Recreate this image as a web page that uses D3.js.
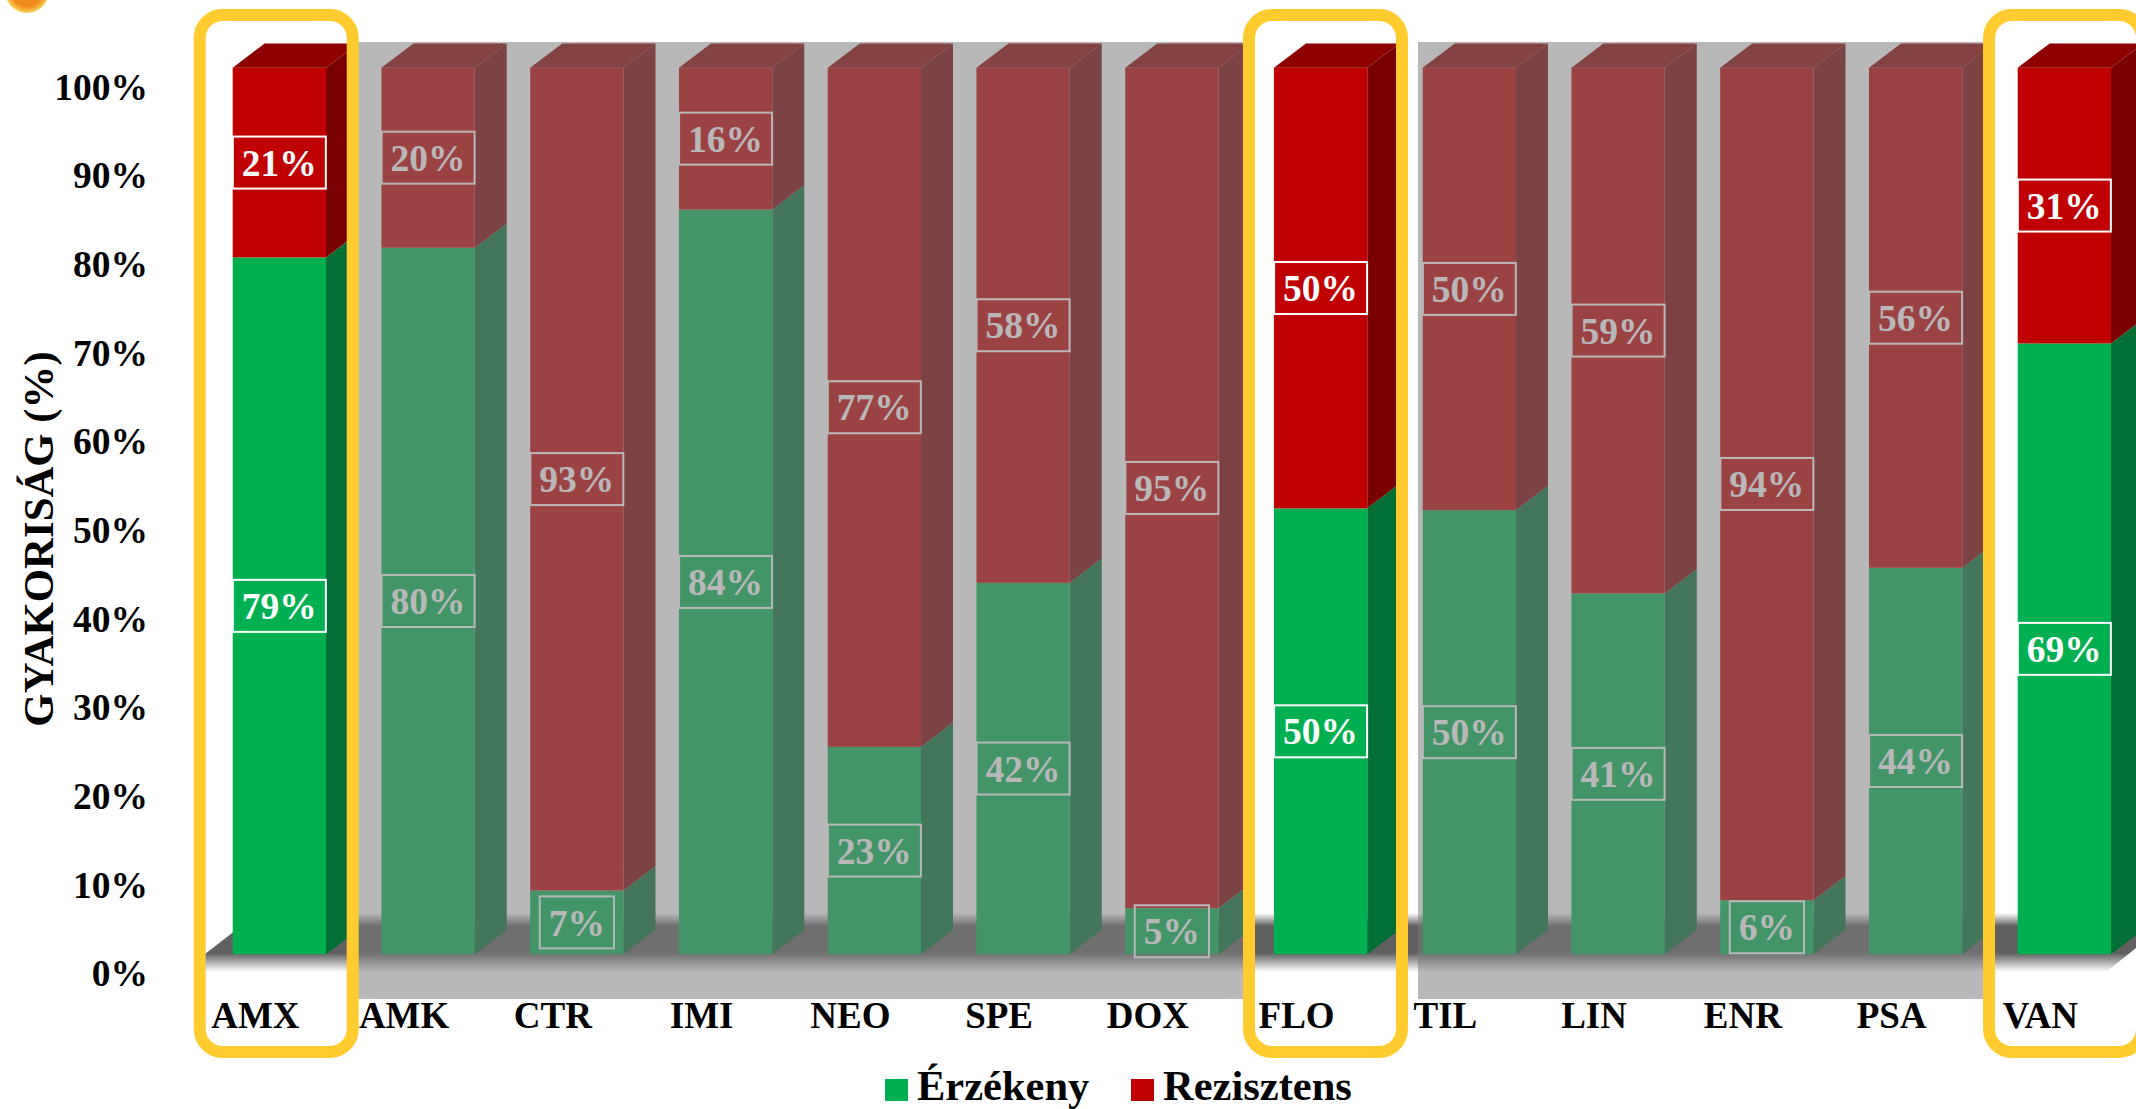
<!DOCTYPE html>
<html>
<head>
<meta charset="utf-8">
<script src="https://cdn.jsdelivr.net/npm/d3@7"></script>
<style>
  html, body { margin: 0; padding: 0; background: #fff; overflow: hidden; }
  text { font-family: "Liberation Serif", "Times New Roman", serif; font-weight: bold; }
</style>
</head>
<body>
<div id="chart"></div>
<script>
//Chart values (the labels show them rounded)
const categories = ["AMX", "AMK", "CTR", "IMI", "NEO", "SPE", "DOX", "FLO", "TIL", "LIN", "ENR", "PSA", "VAN"];
const erzekeny = [78.6, 79.7, 7.2, 84, 23.4, 41.9, 5.2, 50.3, 50.1, 40.7, 6.1, 43.6, 68.9];
const rezisztens = [21.4, 20.3, 92.8, 16, 76.6, 58.1, 94.8, 49.7, 49.9, 59.3, 93.9, 56.4, 31.1];
const yTicks = [0, 10, 20, 30, 40, 50, 60, 70, 80, 90, 100];
const seriesNames = ["Érzékeny", "Rezisztens"];
const yTitle = "GYAKORISÁG (%)";

const width = 2136, height = 1109;
const depthX = 32, depthY = 24.3;
const colors = {
    "Érzékeny": {front: "#00b050", side: "#006f35", top: "#008a3e"},
    "Rezisztens": {front: "#c00000", side: "#7a0000", top: "#8e0000"}
};

const svg = d3.select("#chart")
    .append("svg")
    .attr("width", width)
    .attr("height", height);

//Scales
const x = d3.scaleBand()
    .domain(categories)
    .range([232.7, 2111])
    .paddingInner(0.3728)
    .paddingOuter(0);

const y = d3.scaleLinear()
    .domain([0, 100])
    .range([954.3, 67.7]);

//Small round icon cut off by the top edge
const defs = svg.append("defs");
const iconGrad = defs.append("radialGradient").attr("id", "iconGrad");
iconGrad.append("stop").attr("offset", "70%").attr("stop-color", "#f08a1d");
iconGrad.append("stop").attr("offset", "100%").attr("stop-color", "#fcd25a");
svg.append("circle").attr("cx", 27).attr("cy", -9).attr("r", 22).attr("fill", "url(#iconGrad)");

//Floor with soft edges
const floorGrad = defs.append("linearGradient")
    .attr("id", "floorGrad")
    .attr("gradientUnits", "userSpaceOnUse")
    .attr("x1", 0).attr("x2", 0).attr("y1", 913).attr("y2", 972);
[[913, 0], [926, 1], [953, 1], [972, 0]].forEach(s => {
    floorGrad.append("stop")
        .attr("offset", (s[0] - 913) / 59)
        .attr("stop-color", "#606060")
        .attr("stop-opacity", s[1]);
});
svg.append("polygon")
    .attr("points", "205,954 258,913 2136,913 2136,948 2106,972 205,972")
    .attr("fill", "url(#floorGrad)");

//Stack the two series
const rows = categories.map((c, i) => ({cat: c, "Érzékeny": erzekeny[i], "Rezisztens": rezisztens[i]}));
const stacked = d3.stack().keys(seriesNames)(rows);

//Each segment is a side face and a front face, the top segment also gets a lid
const bars = svg.append("g");
stacked.forEach((layer, li) => {
    const col = colors[layer.key];
    const g = bars.append("g");
    layer.forEach(d => {
        const x0 = x(d.data.cat), x1 = x0 + x.bandwidth();
        const yb = y(d[0]), yt = y(d[1]);

        g.append("polygon")
            .attr("points", `${x1},${yb} ${x1 + depthX},${yb - depthY} ${x1 + depthX},${yt - depthY} ${x1},${yt}`)
            .attr("fill", col.side);
        g.append("rect")
            .attr("x", x0).attr("y", yt)
            .attr("width", x.bandwidth()).attr("height", yb - yt)
            .attr("fill", col.front);
        if (li === stacked.length - 1) {
            g.append("polygon")
                .attr("points", `${x0},${yt} ${x0 + depthX},${yt - depthY} ${x1 + depthX},${yt - depthY} ${x1},${yt}`)
                .attr("fill", col.top);
        }
    });
});

//Value labels with a white frame
const labels = svg.append("g");
stacked.forEach(layer => {
    layer.forEach(d => {
        const cx = x(d.data.cat) + x.bandwidth() / 2;
        const cy = (y(d[0]) + y(d[1])) / 2;
        const t = labels.append("text")
            .attr("x", cx)
            .attr("y", cy)
            .attr("dy", "0.35em")
            .attr("text-anchor", "middle")
            .attr("font-size", 37.5)
            .attr("fill", "#fff")
            .text(`${Math.round(d.data[layer.key])}%`);
        const w = t.node().getComputedTextLength() + 18;
        labels.append("rect")
            .attr("x", cx - w / 2)
            .attr("y", cy - 26)
            .attr("width", w)
            .attr("height", 52)
            .attr("fill", "none")
            .attr("stroke", "#fff")
            .attr("stroke-width", 2);
    });
});

//Grey veil over the columns that are not highlighted
[[358, 885], [1418, 565]].forEach(p => {
    svg.append("rect")
        .attr("x", p[0]).attr("y", 42)
        .attr("width", p[1]).attr("height", 957)
        .attr("fill", "#7c7c7c")
        .attr("opacity", 0.54);
});

//Yellow frames around the highlighted columns
[199.7, 1249, 1989].forEach(bx => {
    svg.append("rect")
        .attr("x", bx).attr("y", 15)
        .attr("width", 153).attr("height", 1037)
        .attr("rx", 23).attr("ry", 23)
        .attr("fill", "none")
        .attr("stroke", "#ffcb2f")
        .attr("stroke-width", 12);
});

//Y axis, its labels sit a bit below the front of the bars
const yAxis = svg.append("g")
    .attr("transform", "translate(148,19.5)")
    .call(d3.axisLeft(y).tickValues(yTicks).tickSize(0).tickPadding(0).tickFormat(d => `${d}%`));
yAxis.select(".domain").remove();
yAxis.selectAll("text")
    .attr("font-size", 37.5)
    .attr("fill", "#000")
    .style("font-family", '"Liberation Serif", serif');

//X axis, labels shifted to the left of the bars
const xAxis = svg.append("g")
    .attr("transform", "translate(-24,1003)")
    .call(d3.axisBottom(x).tickSize(0).tickPadding(0));
xAxis.select(".domain").remove();
xAxis.selectAll("text")
    .attr("y", 0)
    .attr("dy", "25px")
    .attr("font-size", 37)
    .attr("fill", "#000")
    .style("font-family", '"Liberation Serif", serif');

//Y title
svg.append("text")
    .attr("transform", "translate(53,539) rotate(-90)")
    .attr("text-anchor", "middle")
    .attr("font-size", 42.8)
    .attr("fill", "#000")
    .text(yTitle);

//Legend
const legendX = [885, 1131];
seriesNames.forEach((name, i) => {
    svg.append("rect")
        .attr("x", legendX[i]).attr("y", 1079)
        .attr("width", 23).attr("height", 22)
        .attr("fill", colors[name].front);
    svg.append("text")
        .attr("x", legendX[i] + 32)
        .attr("y", 1099.5)
        .attr("font-size", 42.5)
        .attr("fill", "#000")
        .text(name);
});
</script>
</body>
</html>
